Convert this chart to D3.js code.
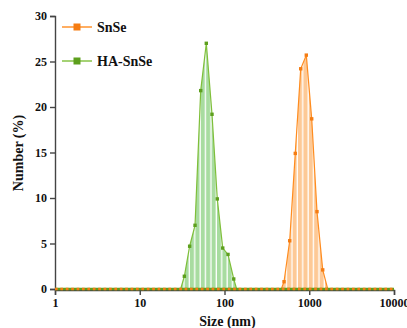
<!DOCTYPE html>
<head>
  <meta charset="utf-8">
  <script src="https://d3js.org/d3.v7.min.js"></script>
  <style>
    body { margin: 0; background: #fff; }
    text { font-family: 'Liberation Serif', 'Times New Roman', serif; font-weight: bold; fill: #111; }
    .axis path, .axis line { stroke: #444; stroke-width: 1.4; }
    .axis text { font-size: 12px; }
    .line { fill: none; stroke-width: 1.2; }
  </style>
</head>
<body>
  <svg id="chart" width="407" height="328"></svg>
  <script>
    // sizes in nm, number in %
    var snseSize = [1, 468, 504, 588, 684, 793, 923, 1069, 1234, 1442, 1651, 10000];
    var snseNum  = [0, 0, 0.8, 5.3, 14.9, 24.2, 25.7, 18.7, 8.5, 2.1, 0, 0];
    var haSize = [1, 30.4, 33.6, 38.8, 44.9, 52.4, 61.0, 71.2, 82.2, 95.3, 110, 128.5, 139, 10000];
    var haNum  = [0, 0, 1.4, 4.7, 7.0, 21.8, 27.0, 19.2, 9.9, 4.5, 3.8, 1.1, 0, 0];
    var xTicks = [1, 10, 100, 1000, 10000];
    var yTicks = [0, 5, 10, 15, 20, 25, 30];

    var chart = d3.select('#chart');
    var margin = { top: 16, right: 13, bottom: 38, left: 55 };
    var width = 407 - margin.left - margin.right;
    var height = 328 - margin.top - margin.bottom;

    var x = d3.scaleLog().domain([1, 10000]).range([0, width]);
    var y = d3.scaleLinear().domain([0, 30]).range([height - 1, 0]);

    var series = [
      { name: 'SnSe', size: snseSize, num: snseNum, line: '#ff8c1f', mark: '#f57c12', fill: '#fdc996' },
      { name: 'HA-SnSe', size: haSize, num: haNum, line: '#7fbf3a', mark: '#5d9f1d', fill: '#a8dca0' }
    ];
    series.forEach((s) => { s.pts = s.size.map((d, i) => ({ size: d, num: s.num[i] })); });

    var defs = chart.append('defs');
    series.forEach((s, i) => {
      var p = defs.append('pattern')
        .attr('id', 'stripe' + i)
        .attr('patternUnits', 'userSpaceOnUse')
        .attr('width', 5.4).attr('height', 10);
      p.append('rect').attr('width', 5.4).attr('height', 10).attr('fill', '#fff');
      p.append('rect').attr('width', 4.1).attr('height', 10).attr('fill', s.fill);
    });

    var g = chart.append('g')
      .attr('transform', 'translate(' + margin.left + ',' + margin.top + ')');

    // striped area under each curve
    series.forEach((s, i) => {
      g.append('path')
        .datum(s.pts)
        .attr('fill', 'url(#stripe' + i + ')')
        .attr('d', d3.area().x((d) => x(d.size)).y0(y(0)).y1((d) => y(d.num)));
    });

    // axes
    g.append('g')
      .attr('class', 'axis')
      .attr('transform', 'translate(0,' + height + ')')
      .call(d3.axisBottom(x).tickValues(xTicks).tickFormat(d3.format('d')).tickSizeOuter(0).tickSize(5).tickPadding(3));

    g.append('g')
      .attr('class', 'axis')
      .call(d3.axisLeft(y).tickValues(yTicks).tickSizeOuter(0).tickSize(5).tickPadding(3));

    // lines
    series.forEach((s) => {
      g.append('path')
        .datum(s.pts)
        .attr('class', 'line')
        .attr('stroke', s.line)
        .attr('d', d3.line().x((d) => x(d.size)).y((d) => y(d.num)));
    });

    // zero-valued markers along the baseline
    g.append('line')
      .attr('x1', x(1)).attr('x2', x(10000)).attr('y1', y(0)).attr('y2', y(0))
      .attr('stroke', series[1].mark).attr('stroke-width', 2.4);
    g.append('line')
      .attr('x1', x(1)).attr('x2', x(10000)).attr('y1', y(0)).attr('y2', y(0))
      .attr('stroke', series[0].mark).attr('stroke-width', 2.4)
      .attr('stroke-dasharray', '2.7 2.7');

    // markers
    series.forEach((s) => {
      g.selectAll(null)
        .data(s.pts.filter((d) => d.num > 0))
        .enter().append('rect')
        .attr('x', (d) => x(d.size) - 1.7)
        .attr('y', (d) => y(d.num) - 1.7)
        .attr('width', 3.4).attr('height', 3.4)
        .attr('fill', s.mark);
    });

    // legend
    var legend = chart.append('g').attr('transform', 'translate(62,27)');
    series.forEach((s, i) => {
      var row = legend.append('g').attr('transform', 'translate(0,' + i * 34 + ')');
      row.append('line').attr('x1', 0).attr('x2', 30).attr('stroke', s.line).attr('stroke-width', 1.4);
      row.append('rect').attr('x', 11.5).attr('y', -3.5).attr('width', 7).attr('height', 7).attr('fill', s.mark);
      row.append('text').attr('x', 35).attr('y', 5).attr('font-size', '14px').text(s.name);
    });

    // axis titles
    chart.append('text')
      .attr('x', margin.left + width / 2 + 3).attr('y', 326)
      .attr('text-anchor', 'middle').attr('font-size', '14px')
      .text('Size (nm)');
    chart.append('text')
      .attr('transform', 'translate(23,' + (margin.top + height / 2) + ') rotate(-90)')
      .attr('text-anchor', 'middle').attr('font-size', '14px')
      .text('Number (%)');
  </script>
</body>
</html>
